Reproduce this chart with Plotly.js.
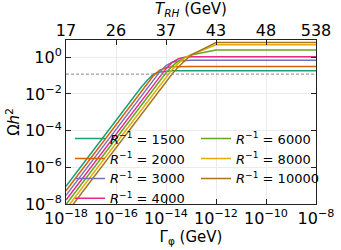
<!DOCTYPE html>
<html><head><meta charset="utf-8">
<script src="https://cdn.plot.ly/plotly-3.0.1.min.js"></script>
<style>html,body{margin:0;padding:0;background:#fff}#chart{width:341px;height:250px}</style>
</head><body><div id="chart"></div>
<script>
// x grid: log10 of Gamma_phi (GeV)
const log10Gamma = [-18, -17, -16, -15, -14.75, -14.5, -14.25, -14, -13.75, -13.5, -13.25, -13, -12, -8];
// series: log10 of Omega h^2
const invR = [1500, 2000, 3000, 4000, 6000, 8000, 10000];
const log10Omega1500  = [-7.03, -5.23, -3.43, -1.65, -1.25, -0.92, -0.80, -0.75, -0.74, -0.73, -0.73, -0.73, -0.73, -0.73];
const log10Omega2000  = [-7.28, -5.48, -3.68, -1.88, -1.43, -1.00, -0.70, -0.57, -0.52, -0.51, -0.50, -0.50, -0.50, -0.50];
const log10Omega3000  = [-7.53, -5.73, -3.93, -2.13, -1.68, -1.23, -0.80, -0.45, -0.27, -0.20, -0.18, -0.17, -0.17, -0.17];
const log10Omega4000  = [-7.78, -5.98, -4.18, -2.38, -1.93, -1.48, -1.03, -0.62, -0.28, -0.08, 0.00, 0.03, 0.03, 0.03];
const log10Omega6000  = [-8.03, -6.23, -4.43, -2.63, -2.18, -1.73, -1.28, -0.85, -0.48, -0.20, -0.02, 0.12, 0.40, 0.40];
const log10Omega8000  = [-8.28, -6.48, -4.68, -2.88, -2.43, -1.98, -1.53, -1.08, -0.66, -0.32, -0.05, 0.14, 0.68, 0.68];
const log10Omega10000 = [-8.53, -6.73, -4.93, -3.13, -2.68, -2.23, -1.78, -1.33, -0.90, -0.52, -0.18, 0.12, 0.80, 0.80];
const omegaObs = 0.12;
const bottomTickExp = [-18, -16, -14, -12, -10, -8];
const topTickLabels = ['17', '26', '37', '43', '48', '538'];
const leftTickExp = [0, -2, -4, -6, -8];

const seriesLog = [log10Omega1500, log10Omega2000, log10Omega3000, log10Omega4000, log10Omega6000, log10Omega8000, log10Omega10000];
const colors = ['#1b9e77', '#d95f02', '#7570b3', '#e7298a', '#66a61e', '#e6ab02', '#a6761d'];
const pw = v => Math.pow(10, v);
const gamma = log10Gamma.map(pw);
const FONT = 'DejaVu Sans, sans-serif';

const traces = seriesLog.map((s, i) => ({
  type: 'scatter', mode: 'lines', x: gamma, y: s.map(pw),
  name: '<i>R</i><sup>−1</sup> = ' + invR[i],
  line: {color: colors[i], width: 1.5},
  legend: i < 4 ? 'legend' : 'legend2'
}));
traces.unshift({
  type: 'scatter', mode: 'lines', x: [gamma[0], gamma[gamma.length - 1]], y: [omegaObs, omegaObs],
  xaxis: 'x2', line: {color: '#8a8a8a', width: 1, dash: '3px,2px'}, showlegend: false, hoverinfo: 'skip'
});

const sup = e => '10<sup>' + (e < 0 ? '−' + (-e) : e) + '</sup>';
const axisCommon = {
  ticks: 'inside', ticklen: 5, tickwidth: 1, tickcolor: '#222',
  linecolor: '#222', linewidth: 1, zeroline: false,
  tickfont: {family: FONT, size: 16, color: '#000'}
};

const layout = {
  width: 341, height: 250,
  margin: {l: 66, r: 25, t: 40, b: 46},
  paper_bgcolor: '#fff', plot_bgcolor: '#fff',
  font: {family: FONT, size: 15, color: '#000'},
  xaxis: Object.assign({}, axisCommon, {
    type: 'log', range: [-18, -8], tickmode: 'array',
    tickvals: bottomTickExp.map(pw), ticktext: bottomTickExp.map(sup),
    showline: true, mirror: 'ticks', showgrid: true, gridcolor: '#ececec',
    title: {text: 'Γ<sub>φ</sub> (GeV)', font: {family: FONT, size: 15}, standoff: 2}
  }),
  xaxis2: Object.assign({}, axisCommon, {
    type: 'log', range: [-18, -8], overlaying: 'x', side: 'top', anchor: 'y',
    tickmode: 'array', tickvals: bottomTickExp.map(pw), ticktext: topTickLabels,
    showline: false, showgrid: false,
    title: {text: '<i>T<sub>RH</sub></i> (GeV)', font: {family: FONT, size: 15}}
  }),
  yaxis: Object.assign({}, axisCommon, {
    type: 'log', range: [-8, 0.94], tickmode: 'array',
    tickvals: leftTickExp.map(pw), ticktext: leftTickExp.map(sup),
    showline: true, mirror: 'ticks', showgrid: true, gridcolor: '#ececec',
    title: {text: 'Ω<i>h</i><sup>2</sup>', font: {family: FONT, size: 15}}
  }),
  legend: {x: 0.016, y: 0.49, xanchor: 'left', yanchor: 'top', bgcolor: 'rgba(0,0,0,0)',
    font: {family: FONT, size: 13, color: '#000'}, tracegroupgap: 0},
  legend2: {x: 0.52, y: 0.49, xanchor: 'left', yanchor: 'top', bgcolor: 'rgba(0,0,0,0)',
    font: {family: FONT, size: 13, color: '#000'}, tracegroupgap: 0},
  showlegend: true
};
Plotly.newPlot('chart', traces, layout, {staticPlot: true, displayModeBar: false});
</script>
</body></html>
